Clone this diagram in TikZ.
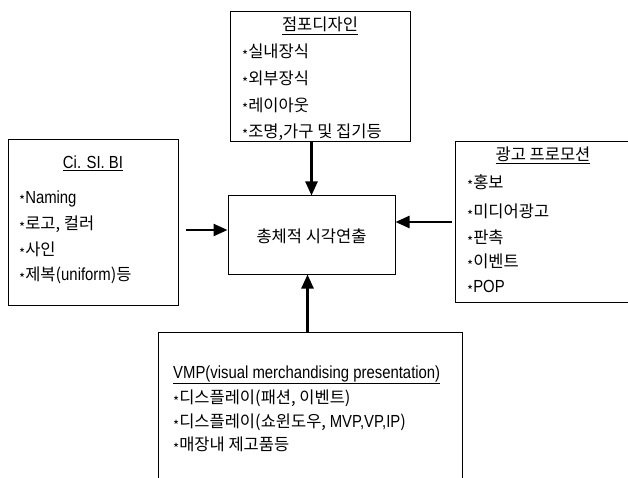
\documentclass[tikz,border=0pt]{standalone}
\usepackage{fontspec}
\newfontfamily\kr{Noto Sans CJK KR}
\newfontfamily\latf{Liberation Sans}[FakeStretch=0.85]
\newcommand{\lat}{\latf\fontsize{17.5}{17.5}\selectfont}
\usetikzlibrary{arrows.meta}
\newcommand{\bul}{{\fontsize{13}{13}\selectfont\raisebox{-2.5pt}{*}}}
\begin{document}
\begin{tikzpicture}[x=1pt,y=-1pt,
  box/.style={draw,line width=1pt,minimum width=#1,inner sep=0pt},
  txt/.style={font=\kr\fontsize{16.5}{16.5}\selectfont,anchor=base west,inner sep=0pt},
  ttl/.style={font=\kr\fontsize{16.5}{16.5}\selectfont,anchor=base,inner sep=0pt},
  arr/.style={line width=2.4pt,-{Triangle[length=14pt,width=12pt]}}]
\useasboundingbox (0,0) rectangle (628,478);
% boxes
\node[box=180pt,minimum height=130pt] (top) at (320,77) {};
\node[box=170pt,minimum height=165pt] (lft) at (93,222.5) {};
\node[box=167pt,minimum height=78pt] (cen) at (311.5,235) {};
\node[box=180pt,minimum height=160pt] (rgt) at (545,222) {};
\node[box=304pt,minimum height=158pt] (bot) at (310,411) {};
% top texts
\node[ttl] (t0) at (320,31) {\underline{점포디자인}};
\node[txt] (t1) at (242,58) {\bul 실내장식};
\node[txt] (t2) at (242,85) {\bul 외부장식};
\node[txt] (t3) at (242,111.5) {\bul 레이아웃};
\node[txt] (t4) at (242,137.5) {\bul 조명,가구 및 집기등};
% left texts
\node[ttl] (l0) at (93,169) {\underline{\lat Ci. SI. BI}};
\node[txt] (l1) at (19,203.5) {\bul{\lat Naming}};
\node[txt] (l2) at (19,229.5) {\bul 로고, 컬러};
\node[txt] (l3) at (19,255.5) {\bul 사인};
\node[txt] (l4) at (19,280.5) {\bul 제복({\lat uniform})등};
% right texts
\node[ttl] (r0) at (543,161) {\underline{광고 프로모션}};
\node[txt] (r1) at (467,188.5) {\bul 홍보};
\node[txt] (r2) at (467,217.5) {\bul 미디어광고};
\node[txt] (r3) at (467,243.5) {\bul 판촉};
\node[txt] (r4) at (467,267.5) {\bul 이벤트};
\node[txt] (r5) at (467,292.5) {\bul{\lat POP}};
% bottom texts
\node[txt] (b0) at (173,378.5) {\underline{\lat VMP(visual merchandising presentation)}};
\node[txt] (b1) at (173,403.5) {\bul 디스플레이(패션, 이벤트)};
\node[txt] (b2) at (173,427.5) {\bul 디스플레이(쇼윈도우, {\lat MVP,VP,IP})};
\node[txt] (b3) at (173,450.5) {\bul 매장내 제고품등};
% center text
\node[font=\kr\fontsize{16.5}{16.5}\selectfont,inner sep=0pt] (c0) at (311.5,236) {총체적 시각연출};
% arrows
\draw[arr] (top.south -| cen.north) -- (cen.north);
\draw[arr,shorten <=7pt] ([yshift=5pt]lft.east |- cen.west) -- ([yshift=5pt]cen.west);
\draw[arr,shorten <=3pt] ([yshift=13pt]rgt.west |- cen.east) -- ([yshift=13pt]cen.east);
\draw[arr] ([xshift=-4pt]bot.north -| cen.south) -- ([xshift=-4pt]cen.south);
\end{tikzpicture}
\end{document}
